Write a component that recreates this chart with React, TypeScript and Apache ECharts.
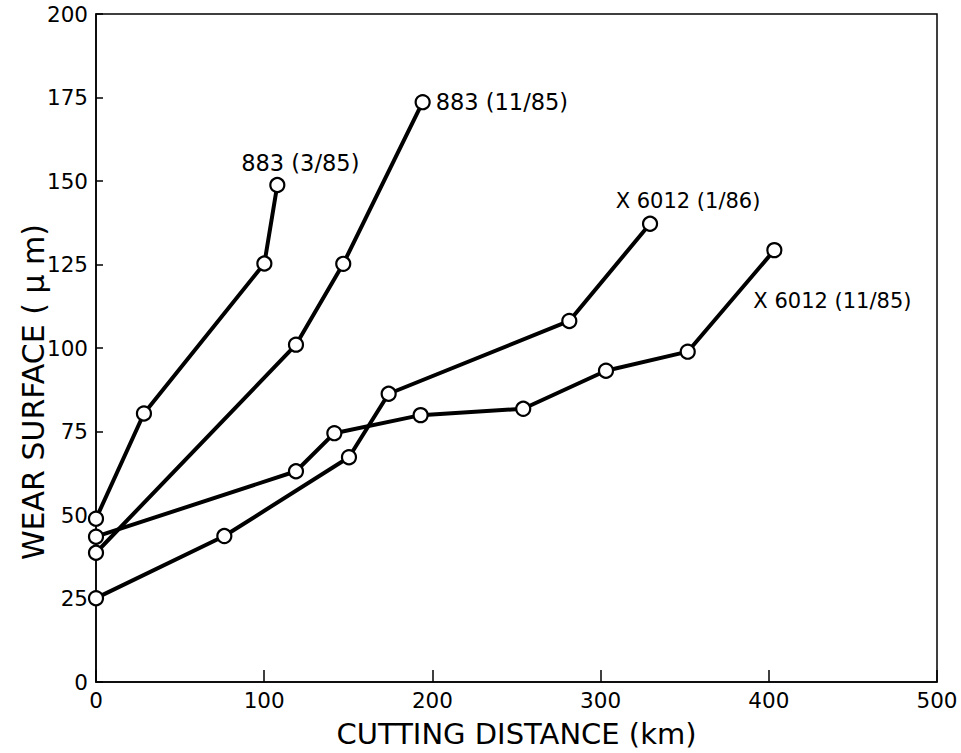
import React, { useEffect, useRef } from "react";
import * as echarts from "echarts";

const xTicks = [0, 100, 200, 300, 400, 500];
const yTicks = [0, 25, 50, 75, 100, 125, 150, 175, 200];

const seriesNames = ["883 (3/85)", "883 (11/85)", "X 6012 (1/86)", "X 6012 (11/85)"];

const s883_385: [number, number][] = [
  [0, 48.9],
  [28.5, 80.4],
  [100.1, 125.3],
  [107.8, 148.8],
];
const s883_1185: [number, number][] = [
  [0, 38.7],
  [118.9, 101],
  [147.0, 125.2],
  [194.2, 173.6],
];
const sX6012_186: [number, number][] = [
  [0, 25.1],
  [76.3, 43.7],
  [150.4, 67.3],
  [174.0, 86.3],
  [281.4, 108.1],
  [329.4, 137.2],
];
const sX6012_1185: [number, number][] = [
  [0, 43.5],
  [118.9, 63.1],
  [141.7, 74.5],
  [193.0, 79.9],
  [254.0, 81.8],
  [303.2, 93.2],
  [351.8, 98.9],
  [403.3, 129.3],
];

const FONT = "DejaVu Sans";

export default function App() {
  const ref = useRef<HTMLDivElement>(null);
  useEffect(() => {
    document.body.style.margin = "0";
    if (!ref.current) return;
    const chart = echarts.init(ref.current, undefined, { renderer: "svg" });

    const labelCfg = [
      { align: "center", offset: [23, -22], size: 22.5 },
      { align: "left", offset: [13, 0], size: 22.5 },
      { align: "center", offset: [38, -23], size: 21 },
      { align: "left", offset: [-21, 51], size: 21 },
    ];
    const datasets = [s883_385, s883_1185, sX6012_186, sX6012_1185];

    const series = datasets.map((d, i) => ({
      type: "line",
      name: seriesNames[i],
      data: d.map((p, j) =>
        j === d.length - 1
          ? {
              value: p,
              label: {
                show: true,
                formatter: seriesNames[i],
                position: "inside",
                align: labelCfg[i].align,
                verticalAlign: "middle",
                offset: labelCfg[i].offset,
                color: "#000",
                fontFamily: FONT,
                fontSize: labelCfg[i].size,
              },
            }
          : { value: p }
      ),
      symbol: "circle",
      symbolSize: 14,
      showAllSymbol: true,
      lineStyle: { color: "#000", width: 4 },
      itemStyle: { color: "#fff", borderColor: "#000", borderWidth: 2.2 },
      emphasis: { disabled: true },
      z: 2,
    }));

    chart.setOption({
      animation: false,
      backgroundColor: "#fff",
      grid: {
        left: 96,
        right: 24,
        top: 14,
        bottom: 67,
        show: true,
        borderColor: "#000",
        borderWidth: 1.5,
        backgroundColor: "transparent",
      },
      xAxis: {
        type: "value",
        min: xTicks[0],
        max: xTicks[xTicks.length - 1],
        interval: 100,
        name: "CUTTING DISTANCE (km)",
        nameLocation: "middle",
        nameGap: 37,
        nameMoveOverlap: false,
        nameTextStyle: { color: "#000", fontFamily: FONT, fontSize: 29 },
        axisLine: { show: true, lineStyle: { color: "#000", width: 1.5 } },
        axisTick: { show: true, inside: true, length: 12, lineStyle: { color: "#000", width: 1.5 } },
        axisLabel: { color: "#000", fontFamily: FONT, fontSize: 21.5, margin: 7 },
        splitLine: { show: false },
      },
      yAxis: {
        type: "value",
        min: yTicks[0],
        max: yTicks[yTicks.length - 1],
        interval: 25,
        name: "WEAR SURFACE ( μ m)",
        nameLocation: "middle",
        nameGap: 48,
        nameMoveOverlap: false,
        nameTextStyle: {
          color: "#000",
          fontFamily: FONT,
          fontSize: 30,
          padding: [0, 88, 0, 0],
        },
        axisLine: { show: true, lineStyle: { color: "#000", width: 1.5 } },
        axisTick: { show: true, inside: true, length: 7, lineStyle: { color: "#000", width: 1.5 } },
        axisLabel: { color: "#000", fontFamily: FONT, fontSize: 21.5, margin: 8 },
        splitLine: { show: false },
      },
      series,
    });
    return () => chart.dispose();
  }, []);
  return <div ref={ref} style={{ width: 961, height: 753 }} />;
}
